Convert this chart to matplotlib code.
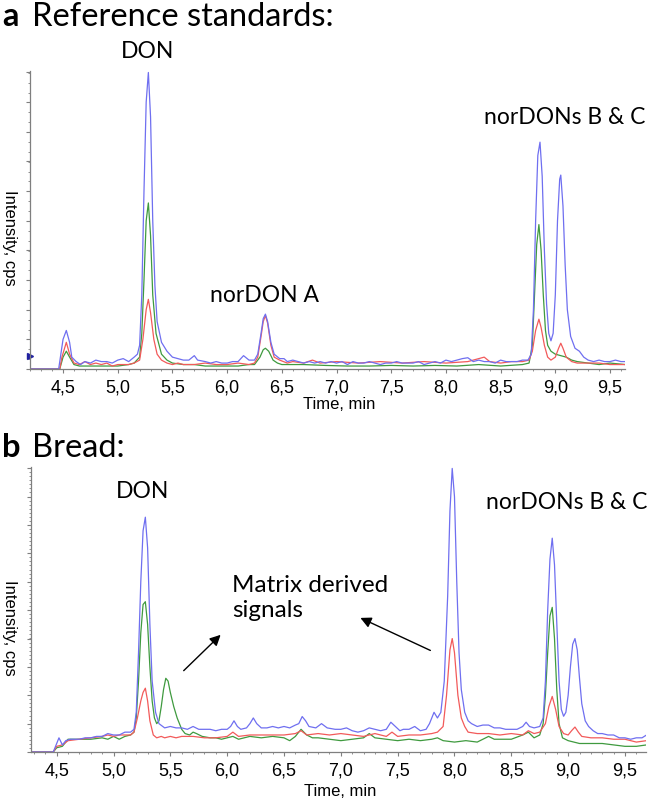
import numpy as np
import matplotlib
matplotlib.use('Agg')
import matplotlib.pyplot as plt
from matplotlib.ticker import MultipleLocator, NullFormatter

# --- panel a: reference standards (intensity in % of axis height) ---
a_blue_t = [4.20, 4.46, 4.48, 4.50, 4.53, 4.56, 4.58, 4.62, 4.66, 4.70, 4.75, 4.80, 4.85, 4.90, 4.95,
            5.00, 5.05, 5.10, 5.15, 5.18, 5.20, 5.22, 5.24, 5.26, 5.28, 5.30, 5.32, 5.34, 5.36, 5.40,
            5.45, 5.50, 5.55, 5.60, 5.65, 5.70, 5.73, 5.80, 5.85, 5.90, 5.95, 6.00, 6.05, 6.10, 6.15,
            6.20, 6.25, 6.28, 6.31, 6.33, 6.35, 6.37, 6.40, 6.43, 6.48, 6.52, 6.55, 6.60, 6.65, 6.70,
            6.75, 6.80, 6.85, 6.90, 6.95, 7.00, 7.05, 7.10, 7.15, 7.20, 7.25, 7.30, 7.35, 7.40, 7.45,
            7.50, 7.55, 7.60, 7.65, 7.70, 7.75, 7.80, 7.85, 7.90, 7.95, 8.00, 8.05, 8.10, 8.15, 8.20,
            8.25, 8.30, 8.35, 8.40, 8.45, 8.50, 8.55, 8.60, 8.65, 8.70, 8.75, 8.78, 8.80, 8.82, 8.84,
            8.86, 8.88, 8.90, 8.92, 8.94, 8.96, 8.98, 9.00, 9.02, 9.04, 9.05, 9.07, 9.09, 9.11, 9.14,
            9.18, 9.22, 9.26, 9.30, 9.35, 9.40, 9.45, 9.50, 9.55, 9.60, 9.64]
a_blue_y = [0, 0, 5, 10, 13, 9, 4, 2.5, 1.5, 2.5, 2, 3, 2.5, 2.5, 2,
            3, 3.5, 2.5, 4, 5, 8, 25, 60, 90, 100, 85, 50, 28, 16, 9,
            6, 4, 3.5, 3, 3, 4.5, 3, 2.5, 2, 2.5, 2, 2, 2.5, 2.5, 4.5,
            3, 3, 5, 12, 17, 18.5, 16, 9, 5, 3.5, 3.5, 2.5, 3, 2.5, 2,
            2.5, 2, 2.5, 2, 2.5, 2, 2.5, 1.5, 2.5, 2, 2, 2.5, 2, 1.5, 2,
            2, 2.5, 2, 2, 2, 2.5, 1.5, 2, 2.5, 2, 3, 2.5, 3, 3.5, 3.8,
            2.5, 3, 2.5, 2.5, 2, 3, 2.5, 2.5, 2.5, 3, 3, 5, 20, 50, 72,
            76.5, 65, 40, 22, 12, 9.5, 12, 25, 50, 64, 65.4, 55, 35, 20, 11,
            7, 6, 4, 3, 2.5, 3, 2.5, 2.5, 3, 2.5, 2.5]

a_green_t = [4.20, 4.47, 4.50, 4.53, 4.56, 4.60, 4.65, 4.70, 4.80, 4.90, 5.00, 5.10, 5.15, 5.20, 5.22,
             5.24, 5.26, 5.28, 5.30, 5.32, 5.35, 5.40, 5.45, 5.50, 5.60, 5.70, 5.80, 5.90, 6.00, 6.10,
             6.20, 6.25, 6.30, 6.33, 6.35, 6.38, 6.42, 6.46, 6.50, 6.60, 6.70, 6.90, 7.10, 7.30, 7.50,
             7.70, 7.90, 8.10, 8.30, 8.50, 8.70, 8.76, 8.79, 8.81, 8.83, 8.85, 8.87, 8.89, 8.91, 8.93,
             8.96, 9.00, 9.05, 9.10, 9.15, 9.20, 9.30, 9.40, 9.50, 9.64]
a_green_y = [0, 0, 4, 6, 4, 1.5, 1, 1, 1, 1, 1, 1.5, 2, 4, 12,
             30, 50, 56, 45, 25, 12, 5, 3, 2, 1.5, 1.5, 1, 1, 1, 1,
             1.5, 1.5, 4, 6.5, 7, 6, 3, 2, 1.5, 1.5, 1.5, 1.2, 1, 1, 1.2,
             1, 1.2, 1, 1.5, 1, 1.5, 2, 8, 25, 42, 48.7, 40, 25, 13, 8,
             6, 5, 4.5, 4, 3, 2.5, 2, 1.5, 2, 1.5]

a_red_t = [4.20, 4.47, 4.49, 4.53, 4.56, 4.60, 4.65, 4.70, 4.75, 4.80, 4.85, 4.90, 4.95, 5.00, 5.05,
           5.10, 5.15, 5.20, 5.23, 5.26, 5.28, 5.30, 5.33, 5.36, 5.40, 5.45, 5.50, 5.55, 5.60, 5.70,
           5.80, 5.90, 6.00, 6.10, 6.20, 6.25, 6.28, 6.31, 6.33, 6.35, 6.37, 6.40, 6.43, 6.48, 6.55,
           6.60, 6.70, 6.78, 6.85, 7.00, 7.20, 7.40, 7.60, 7.80, 8.00, 8.20, 8.35, 8.40, 8.50, 8.60,
           8.70, 8.76, 8.79, 8.82, 8.85, 8.87, 8.90, 8.93, 8.96, 9.00, 9.03, 9.05, 9.07, 9.10, 9.15,
           9.20, 9.30, 9.40, 9.50, 9.64]
a_red_y = [0, 0, 4, 9, 5, 2, 1.5, 2.5, 1.5, 2, 1.5, 2, 1, 1.5, 1.5,
           1.5, 2, 3, 10, 20, 23.5, 19, 10, 5, 3, 2, 1.5, 2, 1.5, 1.5,
           2, 1.5, 1.5, 2, 1.5, 2, 4, 11, 16, 18, 15.5, 8, 4, 3, 2,
           2.5, 2, 3, 2, 2.5, 2, 2.5, 2, 2.5, 2, 2.5, 4, 2.5, 2, 2.5,
           2.5, 3, 6, 13, 16.8, 14, 8, 4, 3, 4, 7, 8.7, 7, 4, 2.5,
           2, 2, 2, 1.5, 1.5]

# --- panel b: bread ---
b_blue_t = [4.27, 4.47, 4.50, 4.52, 4.55, 4.58, 4.62, 4.70, 4.75, 4.80, 4.85, 4.90, 4.95, 5.00, 5.05,
            5.10, 5.15, 5.18, 5.20, 5.22, 5.24, 5.26, 5.28, 5.30, 5.32, 5.34, 5.37, 5.40, 5.45, 5.50,
            5.55, 5.60, 5.65, 5.70, 5.75, 5.80, 5.85, 5.90, 5.95, 6.00, 6.03, 6.06, 6.09, 6.12, 6.17,
            6.20, 6.23, 6.26, 6.30, 6.35, 6.40, 6.45, 6.50, 6.55, 6.60, 6.63, 6.66, 6.69, 6.72, 6.78,
            6.83, 6.88, 6.95, 7.00, 7.05, 7.10, 7.15, 7.20, 7.25, 7.30, 7.35, 7.40, 7.44, 7.48, 7.52,
            7.55, 7.60, 7.65, 7.70, 7.75, 7.78, 7.82, 7.85, 7.88, 7.91, 7.94, 7.96, 7.98, 8.00, 8.02,
            8.04, 8.06, 8.09, 8.12, 8.15, 8.20, 8.25, 8.30, 8.35, 8.40, 8.45, 8.50, 8.55, 8.60, 8.63,
            8.66, 8.70, 8.75, 8.78, 8.80, 8.82, 8.84, 8.86, 8.88, 8.90, 8.92, 8.94, 8.96, 8.98, 9.00,
            9.02, 9.04, 9.06, 9.08, 9.10, 9.12, 9.15, 9.18, 9.22, 9.26, 9.30, 9.35, 9.40, 9.45, 9.50,
            9.55, 9.60, 9.65, 9.69]
b_blue_y = [0, 0, 3, 5, 2.5, 4, 4.5, 4.5, 5, 5, 5.5, 5.5, 6.5, 6, 6,
            7, 7, 8, 14, 35, 60, 78, 82.8, 72, 45, 25, 14, 10, 8.5, 9,
            8.5, 8.5, 8, 9, 8, 8, 8, 7.5, 8, 8, 9, 11, 9, 8, 8.5,
            10, 12, 10, 8.5, 8.5, 9, 8.5, 9, 8.5, 9.5, 10, 12.5, 11, 9, 8.5,
            10, 8.5, 8, 8, 8.5, 7.5, 7, 7.5, 8.5, 8, 7.5, 8, 10.5, 9, 7.5,
            8, 8, 9, 7.5, 8, 10, 14, 12, 14, 25, 55, 85, 100, 90, 60,
            35, 22, 14, 11, 10, 9, 9.5, 9.5, 8.5, 8.5, 8, 8, 8, 9, 10.5,
            9, 8.5, 9, 12, 25, 50, 68, 75.4, 66, 45, 25, 15, 12.6, 14, 20,
            30, 38, 40, 36, 26, 17, 11, 9, 7.5, 6.5, 6.5, 6, 6, 5, 5,
            4.5, 5, 5, 6]

b_green_t = [4.27, 4.47, 4.50, 4.55, 4.60, 4.65, 4.70, 4.80, 4.90, 4.95, 5.00, 5.05, 5.10, 5.15, 5.18,
             5.20, 5.22, 5.24, 5.26, 5.28, 5.30, 5.32, 5.34, 5.36, 5.38, 5.40, 5.42, 5.44, 5.46, 5.48,
             5.50, 5.53, 5.56, 5.60, 5.63, 5.67, 5.70, 5.73, 5.78, 5.85, 5.90, 5.95, 6.00, 6.05, 6.10,
             6.20, 6.30, 6.40, 6.50, 6.55, 6.60, 6.65, 6.70, 6.75, 6.80, 6.90, 7.00, 7.10, 7.20, 7.25,
             7.30, 7.40, 7.50, 7.60, 7.70, 7.80, 7.85, 7.90, 8.00, 8.10, 8.20, 8.30, 8.35, 8.40, 8.50,
             8.60, 8.65, 8.70, 8.75, 8.78, 8.80, 8.82, 8.84, 8.86, 8.88, 8.90, 8.92, 8.95, 9.00, 9.05,
             9.10, 9.20, 9.30, 9.40, 9.50, 9.60, 9.69]
b_green_y = [0, 0, 1.5, 2, 4.5, 4.5, 4.5, 4.5, 5, 4.5, 5.5, 4.5, 5.5, 6, 7,
             12, 25, 42, 52, 53, 45, 30, 18, 12, 10, 11, 16, 22, 26, 25,
             21, 16, 12, 8, 6.5, 6, 7, 6.5, 5.5, 5, 5, 4.5, 5, 5.5, 4.5,
             5.5, 5, 5.5, 5, 4, 5.5, 8, 6, 5, 5, 4.5, 4, 4.5, 5, 6.5,
             5, 4.5, 4, 4.5, 4, 4.5, 5, 4, 3.5, 4, 3.5, 5.5, 4.5, 4.5, 4.5,
             6, 7, 5, 6, 10, 20, 35, 48, 51, 40, 22, 10, 5, 4, 3.5,
             3, 3, 3, 2.5, 2, 2, 2.5]

b_red_t = [4.27, 4.47, 4.50, 4.55, 4.60, 4.70, 4.80, 4.90, 4.95, 5.00, 5.05, 5.10, 5.15, 5.18, 5.21,
           5.24, 5.26, 5.28, 5.30, 5.32, 5.35, 5.38, 5.42, 5.45, 5.50, 5.55, 5.60, 5.70, 5.80, 5.90,
           6.00, 6.05, 6.10, 6.20, 6.30, 6.40, 6.50, 6.60, 6.65, 6.70, 6.80, 6.90, 7.00, 7.10, 7.20,
           7.30, 7.40, 7.45, 7.50, 7.60, 7.70, 7.80, 7.85, 7.90, 7.93, 7.96, 7.98, 8.00, 8.03, 8.06,
           8.09, 8.12, 8.20, 8.30, 8.40, 8.50, 8.60, 8.65, 8.70, 8.75, 8.80, 8.83, 8.86, 8.89, 8.92,
           8.96, 9.00, 9.03, 9.06, 9.09, 9.12, 9.20, 9.30, 9.40, 9.50, 9.60, 9.69]
b_red_y = [0, 0, 2, 2.5, 4, 4.5, 5, 5.5, 6, 5.5, 6, 6, 6, 7, 12,
           18, 21, 22.5, 18, 11, 6, 5, 5.5, 5, 5.5, 5, 5.5, 5.5, 5, 5,
           5.5, 7, 5.5, 6, 6, 6, 6, 6.5, 7.5, 6, 6.5, 6, 6.5, 6, 5.5,
           6.5, 5.5, 7, 5.5, 6, 6, 6.5, 7, 9, 20, 36, 40, 35, 20, 12,
           9, 7, 6.5, 6.5, 6, 6.5, 6, 7.5, 6.5, 7, 10, 16, 19.6, 15, 9,
           6.5, 6, 7.5, 8.8, 7, 5.5, 5, 5, 4.5, 4.5, 3.5, 4]

a_xlim = (4.198, 9.637)
b_xlim = (4.274, 9.685)
a_marker_level = 4.5  # small threshold marker on the y axis of panel a

BLUE = '#6f6ff0'
GREEN = '#3f9a3f'
RED = '#f25a5a'
AXIS_GREY = '#7f7f7f'

W, H = 657, 804
plt.rcParams['font.family'] = ['Lato', 'DejaVu Sans']


def px(x, y):
    return x / W, 1 - y / H


def style_axis(ax, xlim, ydense):
    ax.set_xlim(*xlim)
    ax.set_ylim(0, 100.5)
    for s in ('top', 'right'):
        ax.spines[s].set_visible(False)
    for s in ('left', 'bottom'):
        ax.spines[s].set_color(AXIS_GREY)
        ax.spines[s].set_linewidth(0.9)
    ax.xaxis.set_major_locator(MultipleLocator(0.5))
    ax.xaxis.set_minor_locator(MultipleLocator(0.1))
    ax.xaxis.set_major_formatter(plt.FuncFormatter(lambda v, p: f'{v:.1f}'.replace('.', ',')))
    ax.yaxis.set_major_locator(MultipleLocator(10))
    ax.yaxis.set_minor_locator(MultipleLocator(ydense))
    ax.yaxis.set_major_formatter(NullFormatter())
    ax.tick_params(axis='x', which='major', length=3, color=AXIS_GREY, labelsize=13,
                   pad=4, labelfontfamily='Liberation Sans')
    ax.tick_params(axis='x', which='minor', length=1.5, color=AXIS_GREY)
    ax.tick_params(axis='y', which='major', length=3, color=AXIS_GREY)
    ax.tick_params(axis='y', which='minor', length=1.5, color=AXIS_GREY)


fig = plt.figure(figsize=(W / 100, H / 100), dpi=100)

# panel a
ax_a = fig.add_axes([30 / W, 1 - 370 / H, 595 / W, 298 / H])
ax_a.plot(a_green_t, a_green_y, color=GREEN, lw=0.9)
ax_a.plot(a_red_t, a_red_y, color=RED, lw=0.9)
ax_a.plot(a_blue_t, a_blue_y, color=BLUE, lw=0.9)
ax_a.plot([a_xlim[0]], [a_marker_level], marker='>', color='#2020a0', ms=4, clip_on=False)
style_axis(ax_a, a_xlim, 3.33)

# panel b
ax_b = fig.add_axes([31 / W, 1 - 753 / H, 615 / W, 285 / H])
ax_b.plot(b_green_t, b_green_y, color=GREEN, lw=0.9)
ax_b.plot(b_red_t, b_red_y, color=RED, lw=0.9)
ax_b.plot(b_blue_t, b_blue_y, color=BLUE, lw=0.9)
style_axis(ax_b, b_xlim, 1.43)

# titles
fig.text(*px(2, 17), 'a', fontsize=23.5, fontweight='bold', va='center', ha='left')
fig.text(*px(32, 17), 'Reference standards:', fontsize=23.5, va='center', ha='left')
fig.text(*px(2, 448), 'b', fontsize=23.5, fontweight='bold', va='center', ha='left')
fig.text(*px(32, 448), 'Bread:', fontsize=23.5, va='center', ha='left')

# peak labels
lab = dict(fontsize=16.5, ha='center', va='center')
fig.text(*px(148, 52), 'DON', **lab)
fig.text(*px(265, 296), 'norDON A', **lab)
fig.text(*px(565, 118), 'norDONs B & C', **lab)
fig.text(*px(143, 492), 'DON', **lab)
fig.text(*px(567, 503), 'norDONs B & C', **lab)
fig.text(*px(232, 598), 'Matrix derived\nsignals', fontsize=17.5, ha='left', va='center',
         linespacing=1.25)

# arrows to the matrix-derived peaks
arrow = dict(arrowstyle='-|>', color='black', lw=1.0, mutation_scale=16)
ax_b.annotate('', xy=(5.96, 42), xytext=(5.60, 28), arrowprops=arrow)
ax_b.annotate('', xy=(7.15, 47.7), xytext=(7.81, 35.4), arrowprops=arrow)

# axis titles
axlab = dict(fontsize=12, family='Liberation Sans')
fig.text(*px(9, 238), 'Intensity, cps', rotation=270, ha='center', va='center', **axlab)
fig.text(*px(9, 628), 'Intensity, cps', rotation=270, ha='center', va='center', **axlab)
fig.text(*px(339, 405), 'Time, min', ha='center', va='center', **axlab)
fig.text(*px(340, 792), 'Time, min', ha='center', va='center', **axlab)

fig.savefig('out.png', dpi=100)
